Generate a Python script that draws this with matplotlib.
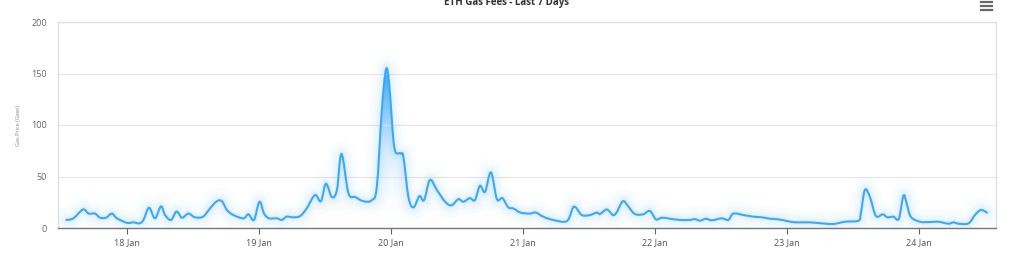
import matplotlib
matplotlib.use('Agg')

import numpy as np
import pandas as pd
import matplotlib.pyplot as plt
import matplotlib.dates as mdates
from matplotlib.path import Path
from matplotlib.patches import PathPatch
from matplotlib.lines import Line2D
from matplotlib.colors import LinearSegmentedColormap

plt.rcParams['font.family'] = ['Open Sans', 'DejaVu Sans']

# data (times are Jan, hours:minutes)
times = [
    "01-17 13:00", "01-17 14:15", "01-17 16:00", "01-17 17:00", "01-17 18:10", "01-17 19:05",
    "01-17 20:10", "01-17 21:15", "01-17 22:10", "01-18 00:00", "01-18 01:10", "01-18 02:15",
    "01-18 03:00", "01-18 04:00", "01-18 05:05", "01-18 06:10", "01-18 06:55", "01-18 08:00",
    "01-18 09:00", "01-18 10:00", "01-18 11:10", "01-18 12:20", "01-18 13:50", "01-18 15:05",
    "01-18 16:20", "01-18 17:15", "01-18 18:10", "01-18 19:20", "01-18 21:10", "01-18 22:05",
    "01-18 23:05", "01-19 00:05", "01-19 00:55", "01-19 01:50", "01-19 03:15", "01-19 04:10",
    "01-19 05:00", "01-19 06:15", "01-19 07:30", "01-19 08:40", "01-19 10:10", "01-19 11:15",
    "01-19 12:10", "01-19 13:15", "01-19 14:10", "01-19 15:00", "01-19 16:15", "01-19 17:30",
    "01-19 19:00", "01-19 20:30", "01-19 21:25", "01-19 22:20", "01-19 23:05", "01-19 23:40",
    "01-20 00:35", "01-20 01:40", "01-20 02:15", "01-20 03:10", "01-20 04:05", "01-20 05:10",
    "01-20 06:00", "01-20 07:05", "01-20 08:20", "01-20 09:50", "01-20 11:00", "01-20 12:15",
    "01-20 13:10", "01-20 14:20", "01-20 15:15", "01-20 16:10", "01-20 17:05", "01-20 18:10",
    "01-20 19:15", "01-20 20:15", "01-20 21:20", "01-20 22:15", "01-20 23:30", "01-21 01:15",
    "01-21 02:20", "01-21 03:40", "01-21 05:30", "01-21 08:00", "01-21 09:15", "01-21 10:40",
    "01-21 12:10", "01-21 13:25", "01-21 14:00", "01-21 15:15", "01-21 16:20", "01-21 17:00",
    "01-21 18:10", "01-21 19:10", "01-21 20:20", "01-21 21:50", "01-21 23:05", "01-22 00:10",
    "01-22 01:15", "01-22 02:45", "01-22 04:35", "01-22 06:20", "01-22 07:15", "01-22 08:10",
    "01-22 09:15", "01-22 10:20", "01-22 12:10", "01-22 13:20", "01-22 14:15", "01-22 16:05",
    "01-22 17:50", "01-22 19:25", "01-22 20:55", "01-22 22:25", "01-23 00:00", "01-23 01:30",
    "01-23 04:10", "01-23 06:20", "01-23 08:25", "01-23 10:35", "01-23 13:00", "01-23 13:25",
    "01-23 14:10", "01-23 15:05", "01-23 16:10", "01-23 17:25", "01-23 18:15", "01-23 19:20",
    "01-23 20:20", "01-23 21:10", "01-23 21:45", "01-23 22:30", "01-24 00:10", "01-24 02:00",
    "01-24 03:30", "01-24 05:20", "01-24 06:15", "01-24 07:10", "01-24 09:00", "01-24 10:10",
    "01-24 11:15", "01-24 12:20",
]
gas_price = [
    7.8, 9.4, 18, 14, 14, 10,
    10, 14, 9.4, 5, 5.5, 4.5,
    8, 19.7, 9.4, 21, 12.6, 7.8,
    16, 10, 14, 10.4, 11, 19,
    26, 26, 17.5, 12.6, 9.4, 13.3,
    7.8, 25.5, 14, 9.4, 9.4, 7.8,
    11, 10.4, 11.7, 19, 32, 26,
    43, 30, 37, 72, 34, 30,
    26, 27, 40, 115, 154, 140,
    79, 72.5, 69, 30, 20, 31,
    27, 46.6, 37, 25.5, 22, 28,
    25.5, 29, 27, 41, 35, 54,
    28, 29, 20, 19, 15, 14,
    15, 11, 7.8, 6.8, 20.7, 12.6,
    12.6, 15, 13.6, 18, 12.6, 15,
    26, 20.7, 13.6, 13.3, 16.5, 8.4,
    10, 9, 7.8, 7.8, 8.7, 7.1,
    9, 7.5, 9.4, 7.8, 14, 12.6,
    11, 10.4, 9, 8.4, 6.8, 5.5,
    5.5, 4.5, 3.9, 6.1, 7.1, 14,
    37, 30, 11.7, 13.3, 10.4, 11,
    9, 31.5, 24, 11, 6.1, 5.8,
    6.1, 4.2, 5.5, 4.2, 4.5, 12.6,
    17.5, 15,
]
day_ticks = ["01-18", "01-19", "01-20", "01-21", "01-22", "01-23", "01-24"]
y_ticks = [0, 50, 100, 150, 200]

LINE = '#3DA9F4'


def spline_path(x, y):
    """Catmull-Rom through the points, as cubic bezier segments."""
    pts = np.column_stack([x, y])
    n = len(pts)
    verts = [pts[0]]
    codes = [Path.MOVETO]
    for i in range(n - 1):
        p0 = pts[max(i - 1, 0)]
        p1 = pts[i]
        p2 = pts[i + 1]
        p3 = pts[min(i + 2, n - 1)]
        c1 = p1 + (p2 - p0) / 6.0
        c2 = p2 - (p3 - p1) / 6.0
        verts += [c1, c2, p2]
        codes += [Path.CURVE4] * 3
    return np.array(verts), codes


x = mdates.date2num(pd.to_datetime(["2022-" + t for t in times]))
y = np.array(gas_price)

fig = plt.figure(figsize=(10.24, 2.54), dpi=100)
ax = fig.add_axes([58 / 1024, 1 - 228 / 254, 938 / 1024, 206 / 254])

verts, codes = spline_path(x, y)
line_path = Path(verts, codes)

# area fill: vertical gradient clipped to the area under the curve
fill_verts = np.vstack([verts, [[x[-1], 0], [x[0], 0], [x[0], 0]]])
fill_codes = codes + [Path.LINETO, Path.LINETO, Path.CLOSEPOLY]
fill_patch = PathPatch(Path(fill_verts, fill_codes), facecolor='none', edgecolor='none')
ax.add_patch(fill_patch)

cmap = LinearSegmentedColormap.from_list(
    'gasfill', [(1, 1, 1, 0.0), (0.80, 0.91, 0.99, 0.75), (0.13, 0.63, 0.96, 1.0)])
grad = np.linspace(0, 1, 256).reshape(-1, 1)
img = ax.imshow(grad, cmap=cmap, origin='lower', aspect='auto',
                extent=[x[0], x[-1], 0, y.max()], interpolation='bilinear', zorder=1)
img.set_clip_path(fill_patch)

# soft glow around the line
for lw, a in [(18, 0.03), (12, 0.045), (8, 0.06), (4, 0.09)]:
    ax.add_patch(PathPatch(line_path, facecolor='none', edgecolor='#7cc6f7',
                           lw=lw, alpha=a, capstyle='round', joinstyle='round', zorder=2))
ax.add_patch(PathPatch(line_path, facecolor='none', edgecolor=LINE, lw=1.5,
                       capstyle='round', joinstyle='round', zorder=3))

xmin = mdates.date2num(pd.Timestamp("2022-01-17 11:27"))
xmax = mdates.date2num(pd.Timestamp("2022-01-24 14:00"))
ax.set_xlim(xmin, xmax)
ax.set_ylim(0, 200)

ax.set_yticks(y_ticks)
ax.set_yticklabels([str(v) for v in y_ticks])
ax.tick_params(axis='y', length=0, pad=8, labelsize=6.5, labelcolor='#666666')
ax.grid(axis='y', color='#e6e6e6', lw=0.8, zorder=0)

tick_dates = pd.to_datetime(["2022-" + d for d in day_ticks])
ax.set_xticks(mdates.date2num(tick_dates))
ax.set_xticklabels([d.strftime('%d Jan') for d in tick_dates])
ax.tick_params(axis='x', length=4, width=0.8, color='#666666', pad=3,
               labelsize=6.5, labelcolor='#555555')

for side in ['left', 'top', 'right']:
    ax.spines[side].set_color('#dddddd')
    ax.spines[side].set_linewidth(0.9)
ax.spines['bottom'].set_color('#777777')
ax.spines['bottom'].set_linewidth(1.0)

ax.set_ylabel('Gas Price (Gwei)', fontsize=4, color='#888888', labelpad=7)

fig.text(507 / 1024, 1 - 3 / 254, 'ETH Gas Fees - Last 7 Days', ha='center', va='center',
         fontsize=7, fontweight='bold', color='#333333')

# menu icon
for yy in [2, 6, 10]:
    fig.add_artist(Line2D([981 / 1024, 992 / 1024], [1 - yy / 254] * 2,
                          transform=fig.transFigure, color='#666666', lw=1.6))

fig.savefig('out.png', dpi=100)
